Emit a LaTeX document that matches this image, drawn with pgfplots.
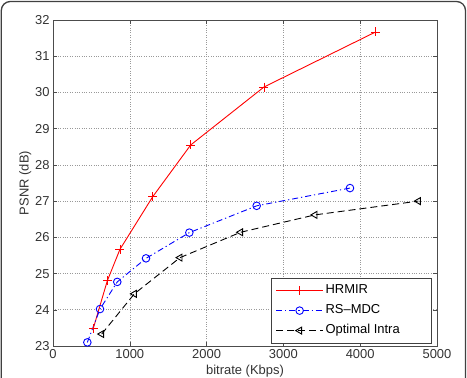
\documentclass[border=0pt]{standalone}
\usepackage{fontspec}
\setmainfont{Liberation Sans}
\usepackage{pgfplots}
\pgfplotsset{compat=1.18}
\begin{document}
\begin{tikzpicture}
\useasboundingbox (0,0) rectangle (467bp,378bp);
\draw[black!75, line width=1.3bp, rounded corners=9bp] (1.3bp,-20bp) -- (1.3bp,376.5bp) -- (465.5bp,376.5bp) -- (465.5bp,-20bp);
\begin{axis}[
  at={(53bp,32bp)}, anchor=south west,
  scale only axis, width=384bp, height=326bp,
  xmin=0, xmax=5000, ymin=23, ymax=32,
  xtick={0,1000,2000,3000,4000,5000},
  ytick={23,24,25,26,27,28,29,30,31,32},
  scaled x ticks=false,
  /pgf/number format/assume math mode=true,
  /pgf/number format/set thousands separator={},
  tick align=inside,
  major tick length=4bp,
  tick style={black!70, line width=0.5bp},
  axis line style={black!70, line width=0.6bp},
  grid=major,
  major grid style={black!40, dotted, line width=0.6bp},
  ticklabel style={font=\fontsize{13}{15}\selectfont, text=black!80},
  label style={font=\fontsize{13}{15}\selectfont, text=black!80},
  xlabel={bitrate (Kbps)},
  ylabel={PSNR (dB)},
  xlabel style={yshift=0bp},
  ylabel style={yshift=-3bp},
  legend style={at={(axis description cs:0.987,0.008)}, anchor=south east,
    font=\fontsize{13}{15}\selectfont, draw=black!75, line width=0.6bp,
    inner xsep=4bp, inner ysep=2.5bp,
    nodes={text height=11bp, text depth=5bp}},
  legend cell align=left,
  legend image code/.code={\draw[mark repeat=2,mark phase=2,#1] plot coordinates {(0bp,0bp) (23.5bp,0bp) (47bp,0bp)};},
]
\addplot[color=red, draw=red, line width=0.9bp, mark=+, mark size=4.5bp, mark options={solid, line width=0.9bp}] coordinates {
(525,23.49) (707,24.80) (872,25.67) (1298,27.12) (1793,28.55) (2747,30.15) (4201,31.67)
};
\addlegendentry{HRMIR}
\addplot[color=blue, line width=0.9bp, dash pattern=on 6bp off 3bp on 1.2bp off 3bp, mark=o, mark size=3.8bp, mark options={solid, line width=0.9bp}] coordinates {
(447,23.10) (612,24.02) (837,24.77) (1211,25.42) (1775,26.13) (2652,26.87) (3867,27.36)
};
\addlegendentry{RS--MDC}
\addplot[color=black, line width=0.9bp, dash pattern=on 7bp off 4bp, mark=triangle, mark size=4bp, mark options={solid, rotate=90, line width=0.9bp}] coordinates {
(634,23.33) (1059,24.44) (1654,25.44) (2443,26.14) (3411,26.62) (4757,27.00)
};
\addlegendentry{Optimal Intra\hspace*{26bp}}
\end{axis}
\end{tikzpicture}
\end{document}
